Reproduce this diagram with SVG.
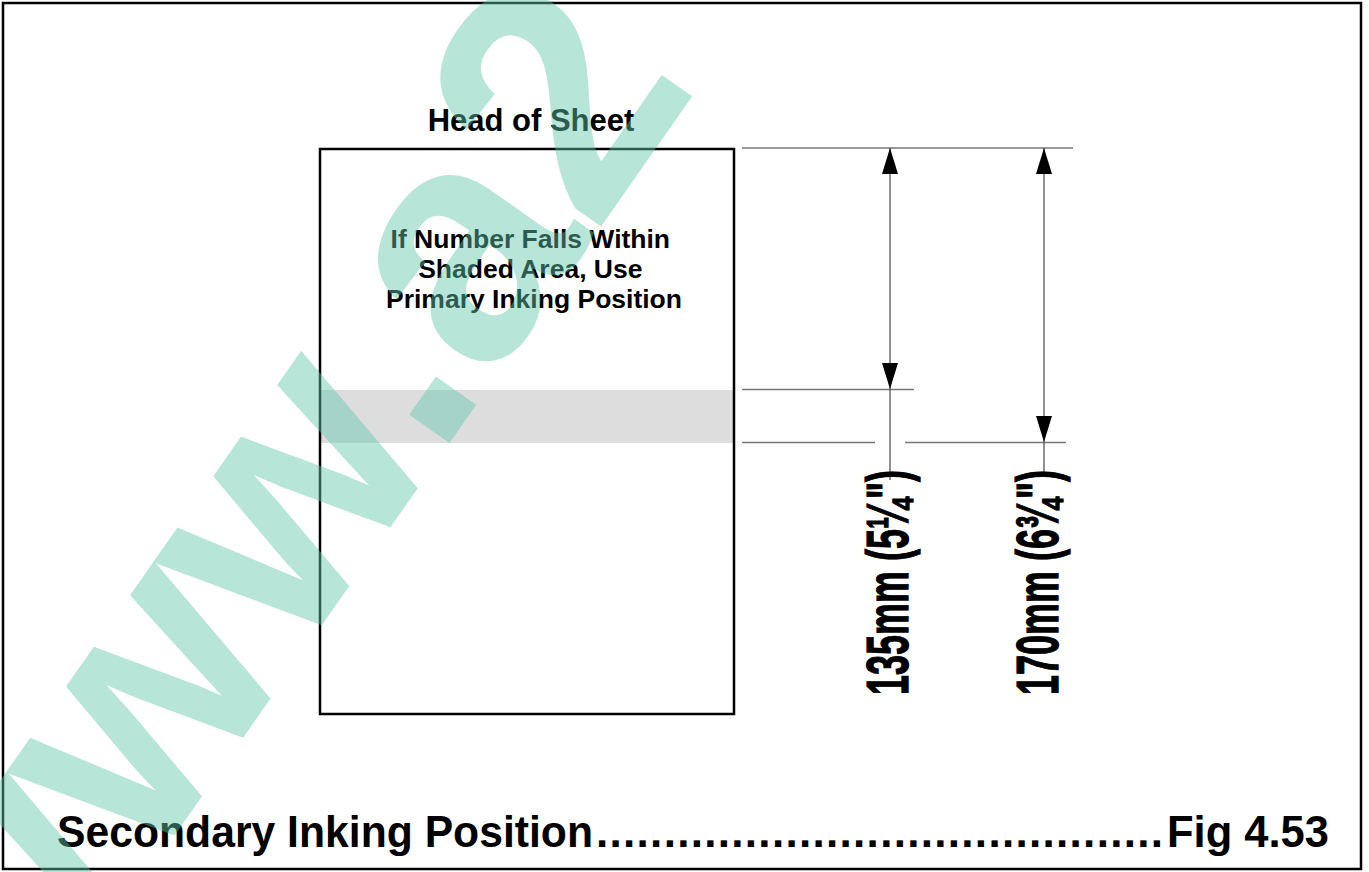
<svg xmlns="http://www.w3.org/2000/svg" width="1369" height="872" viewBox="0 0 1369 872">
<style>
.t{font-family:"Liberation Sans",Arial,sans-serif;font-weight:bold;fill:#000}
.dl{stroke:#000;stroke-width:1.2}
.ext{stroke:#777;stroke-width:1.5;fill:none}
.dim{stroke:#555;stroke-width:1.3;fill:none}
.wm{font-family:"Liberation Sans",Arial,sans-serif;font-weight:bold;fill:#62c8ad;opacity:0.45}
</style>
<defs>
<marker id="arr" viewBox="0 0 26 16" refX="26" refY="8" markerWidth="26" markerHeight="16" markerUnits="userSpaceOnUse" orient="auto-start-reverse">
<path d="M0,0 L26,8 L0,16 z" fill="#000"/>
</marker>
</defs>
<rect x="0" y="0" width="1369" height="872" fill="#fff"/>
<rect id="frame" x="3" y="3" width="1358" height="866" fill="none" stroke="#000" stroke-width="2.5"/>

<g id="sheet">
<rect x="321" y="390" width="412" height="53" fill="#dddddd"/>
<rect x="320" y="149" width="414" height="565" fill="none" stroke="#000" stroke-width="2.5"/>
<text class="t" x="531" y="131" font-size="31" text-anchor="middle">Head of Sheet</text>
<text class="t" font-size="26.5" text-anchor="middle">
<tspan x="534" y="248">If Number Falls Within</tspan>
<tspan x="534" y="278">Shaded Area, Use</tspan>
<tspan x="534" y="308">Primary Inking Position</tspan>
</text>
</g>

<g id="connectors">
<line class="ext" x1="742" y1="148" x2="1073" y2="148"/>
<line class="ext" x1="742" y1="389.5" x2="914" y2="389.5"/>
<line class="ext" x1="742" y1="442.5" x2="875" y2="442.5"/>
<line class="ext" x1="905" y1="442.5" x2="1066" y2="442.5"/>
<line class="dim" x1="890" y1="148" x2="890" y2="389" marker-start="url(#arr)" marker-end="url(#arr)"/>
<line class="dim" x1="890" y1="389" x2="890" y2="480"/>
<line class="dim" x1="1044" y1="148" x2="1044" y2="442" marker-start="url(#arr)" marker-end="url(#arr)"/>
<line class="dim" x1="1044" y1="442" x2="1044" y2="474"/>
</g>

<g id="label-135">
<text class="t dl" font-size="60" transform="translate(908,695) rotate(-90)" textLength="225" lengthAdjust="spacingAndGlyphs">135mm (5¼")</text>
</g>
<g id="label-170">
<text class="t dl" font-size="60" transform="translate(1058,695) rotate(-90)" textLength="225" lengthAdjust="spacingAndGlyphs">170mm (6¾")</text>
</g>

<g id="caption">
<text class="t" x="57" y="847" font-size="44" textLength="536" lengthAdjust="spacingAndGlyphs">Secondary Inking Position</text>
<text class="t" x="596" y="847" font-size="44" textLength="567" lengthAdjust="spacing">..........................................</text>
<text class="t" x="1167" y="847" font-size="44" textLength="162" lengthAdjust="spacingAndGlyphs">Fig 4.53</text>
</g>

<text class="wm" x="2" y="1082" font-size="330" transform="rotate(-55 2 1082)">www.a2</text>
</svg>
